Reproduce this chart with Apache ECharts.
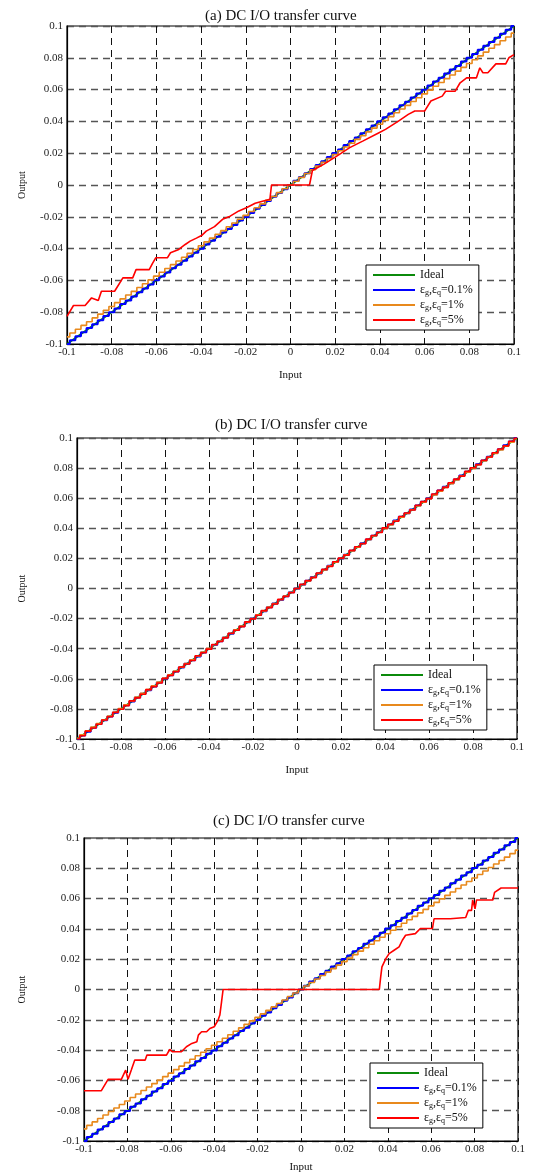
<!DOCTYPE html>
<html>
<head>
<meta charset="utf-8">
<title>DC I/O transfer curve</title>
<script src="https://cdn.jsdelivr.net/npm/echarts@6/dist/echarts.min.js"></script>
<style>
  html, body { margin: 0; padding: 0; background: #fff; }
  #chart { width: 533px; height: 1175px; }
</style>
</head>
<body>
<div id="chart"></div>
<script>
// input grid shared by the stepped curves
const xs = [-0.1, -0.0975, -0.095, -0.0925, -0.09, -0.0875, -0.085, -0.0825, -0.08, -0.0775,
  -0.075, -0.0725, -0.07, -0.0675, -0.065, -0.0625, -0.06, -0.0575, -0.055, -0.0525,
  -0.05, -0.0475, -0.045, -0.0425, -0.04, -0.0375, -0.035, -0.0325, -0.03, -0.0275,
  -0.025, -0.0225, -0.02, -0.0175, -0.015, -0.0125, -0.01, -0.0075, -0.005, -0.0025,
  0, 0.0025, 0.005, 0.0075, 0.01, 0.0125, 0.015, 0.0175, 0.02, 0.0225,
  0.025, 0.0275, 0.03, 0.0325, 0.035, 0.0375, 0.04, 0.0425, 0.045, 0.0475,
  0.05, 0.0525, 0.055, 0.0575, 0.06, 0.0625, 0.065, 0.0675, 0.07, 0.0725,
  0.075, 0.0775, 0.08, 0.0825, 0.085, 0.0875, 0.09, 0.0925, 0.095, 0.0975, 0.1];

const idealX = [-0.1, 0.1];
const idealY = [-0.1, 0.1];

const axisTicks = [-0.1, -0.08, -0.06, -0.04, -0.02, 0, 0.02, 0.04, 0.06, 0.08, 0.1];
const legendNames = ['Ideal', 'εg,εq=0.1%', 'εg,εq=1%', 'εg,εq=5%'];
const titles = ['(a) DC I/O transfer curve', '(b) DC I/O transfer curve', '(c) DC I/O transfer curve'];

// (a)
const blueA = [-0.1, -0.0977, -0.0951, -0.0926, -0.0899, -0.0876, -0.0851, -0.0824, -0.0801, -0.0776,
  -0.0749, -0.0726, -0.0701, -0.0674, -0.0651, -0.0626, -0.0599, -0.0576, -0.0551, -0.0524,
  -0.0501, -0.0476, -0.0449, -0.0426, -0.0401, -0.0374, -0.0351, -0.0326, -0.0299, -0.0276,
  -0.0251, -0.0224, -0.0201, -0.0176, -0.0149, -0.0126, -0.0101, -0.0074, -0.0051, -0.0026,
  0, 0.0026, 0.0051, 0.0074, 0.0101, 0.0126, 0.0149, 0.0176, 0.0201, 0.0224,
  0.0251, 0.0276, 0.0299, 0.0326, 0.0351, 0.0374, 0.0401, 0.0426, 0.0449, 0.0476,
  0.0501, 0.0524, 0.0551, 0.0576, 0.0599, 0.0626, 0.0651, 0.0674, 0.0701, 0.0726,
  0.0749, 0.0776, 0.0801, 0.0824, 0.0851, 0.0876, 0.0899, 0.0926, 0.0951, 0.0977, 0.1];
const orangeA = [-0.0955, -0.0931, -0.0907, -0.0883, -0.086, -0.0836, -0.0812, -0.0788, -0.0764, -0.074,
  -0.0716, -0.0692, -0.0669, -0.0645, -0.0621, -0.0597, -0.0573, -0.0549, -0.0525, -0.0501,
  -0.0478, -0.0454, -0.043, -0.0406, -0.0382, -0.0358, -0.0334, -0.031, -0.0287, -0.0263,
  -0.0239, -0.0215, -0.0191, -0.0167, -0.0143, -0.0119, -0.0096, -0.0072, -0.0048, -0.0024,
  0, 0.0024, 0.0048, 0.0072, 0.0096, 0.0119, 0.0143, 0.0167, 0.0191, 0.0215,
  0.0239, 0.0263, 0.0287, 0.031, 0.0334, 0.0358, 0.0382, 0.0406, 0.043, 0.0454,
  0.0478, 0.0501, 0.0525, 0.0549, 0.0573, 0.0597, 0.0621, 0.0645, 0.0669, 0.0692,
  0.0716, 0.074, 0.0764, 0.0788, 0.0812, 0.0836, 0.086, 0.0883, 0.0907, 0.0931, 0.0955];
const redA = [[-0.1, -0.0826], [-0.0971, -0.0758], [-0.0919, -0.0758], [-0.089, -0.071], [-0.086, -0.0727],
  [-0.0846, -0.0668], [-0.0787, -0.0668], [-0.075, -0.0584], [-0.0706, -0.0584], [-0.0691, -0.0532],
  [-0.0632, -0.0532], [-0.0618, -0.0494], [-0.0603, -0.0458], [-0.0551, -0.0458], [-0.0537, -0.0426],
  [-0.05, -0.0405], [-0.0471, -0.0374], [-0.0449, -0.0353], [-0.0421, -0.0334], [-0.0398, -0.0318],
  [-0.0377, -0.029], [-0.034, -0.0262], [-0.0304, -0.0216], [-0.027, -0.0196], [-0.0231, -0.0163],
  [-0.0195, -0.0142], [-0.0158, -0.0115], [-0.0121, -0.01], [-0.0092, -0.0089], [-0.0085, 0],
  [0.0085, 0], [0.0098, 0.0091], [0.0105, 0.0098], [0.0148, 0.013], [0.0207, 0.0182],
  [0.0265, 0.0235], [0.0323, 0.0276], [0.0396, 0.0329], [0.0425, 0.035], [0.0483, 0.0402],
  [0.0527, 0.0444], [0.0556, 0.0465], [0.06, 0.0465], [0.0628, 0.0528], [0.0679, 0.0559],
  [0.0694, 0.059], [0.0737, 0.059], [0.0759, 0.0643], [0.0788, 0.0674], [0.0832, 0.0674],
  [0.0847, 0.0737], [0.0861, 0.0706], [0.0883, 0.0706], [0.0919, 0.0762], [0.0963, 0.0762],
  [0.0977, 0.08], [0.1, 0.082]];

// (b)
const blueB = [-0.1, -0.0976, -0.0951, -0.0925, -0.09, -0.0876, -0.0851, -0.0825, -0.08, -0.0776,
  -0.0751, -0.0725, -0.07, -0.0676, -0.0651, -0.0625, -0.06, -0.0576, -0.0551, -0.0525,
  -0.05, -0.0476, -0.0451, -0.0425, -0.04, -0.0376, -0.0351, -0.0325, -0.03, -0.0276,
  -0.0251, -0.0225, -0.02, -0.0176, -0.0151, -0.0125, -0.01, -0.0076, -0.0051, -0.0025,
  0, 0.0025, 0.0051, 0.0076, 0.01, 0.0125, 0.0151, 0.0176, 0.02, 0.0225,
  0.0251, 0.0276, 0.03, 0.0325, 0.0351, 0.0376, 0.04, 0.0425, 0.0451, 0.0476,
  0.05, 0.0525, 0.0551, 0.0576, 0.06, 0.0625, 0.0651, 0.0676, 0.07, 0.0725,
  0.0751, 0.0776, 0.08, 0.0825, 0.0851, 0.0876, 0.09, 0.0925, 0.0951, 0.0976, 0.1];
const orangeB = [-0.0995, -0.0972, -0.0946, -0.0921, -0.0897, -0.0872, -0.0847, -0.0822, -0.0797, -0.0772,
  -0.0747, -0.0722, -0.0697, -0.0672, -0.0647, -0.0622, -0.0597, -0.0573, -0.0548, -0.0523,
  -0.0498, -0.0473, -0.0448, -0.0423, -0.0398, -0.0374, -0.0349, -0.0324, -0.0299, -0.0274,
  -0.0249, -0.0224, -0.0199, -0.0174, -0.0149, -0.0124, -0.01, -0.0075, -0.005, -0.0025,
  0, 0.0025, 0.005, 0.0075, 0.01, 0.0124, 0.0149, 0.0174, 0.0199, 0.0224,
  0.0249, 0.0274, 0.0299, 0.0324, 0.0349, 0.0374, 0.0398, 0.0423, 0.0448, 0.0473,
  0.0498, 0.0523, 0.0548, 0.0573, 0.0597, 0.0622, 0.0647, 0.0672, 0.0697, 0.0722,
  0.0747, 0.0772, 0.0797, 0.0822, 0.0847, 0.0872, 0.0897, 0.0921, 0.0946, 0.0972, 0.0995];
const redB = [-0.1, -0.0978, -0.0948, -0.0927, -0.0902, -0.0874, -0.0852, -0.0823, -0.0802, -0.0778,
  -0.0747, -0.0727, -0.0703, -0.0672, -0.0652, -0.0628, -0.0597, -0.0577, -0.0553, -0.0522,
  -0.0502, -0.0478, -0.0447, -0.0427, -0.0403, -0.0372, -0.0352, -0.0328, -0.0297, -0.0277,
  -0.0253, -0.0222, -0.0202, -0.0178, -0.0147, -0.0127, -0.0103, -0.0072, -0.0052, -0.0028,
  0, 0.0028, 0.0052, 0.0072, 0.0103, 0.0127, 0.0147, 0.0178, 0.0202, 0.0222,
  0.0253, 0.0277, 0.0297, 0.0328, 0.0352, 0.0372, 0.0403, 0.0427, 0.0447, 0.0478,
  0.0502, 0.0522, 0.0553, 0.0577, 0.0597, 0.0628, 0.0652, 0.0672, 0.0703, 0.0727,
  0.0747, 0.0778, 0.0802, 0.0823, 0.0852, 0.0874, 0.0902, 0.0927, 0.0948, 0.0978, 0.1];

// (c)
const blueC = [-0.1, -0.0974, -0.0952, -0.0924, -0.0902, -0.0874, -0.0852, -0.0824, -0.0802, -0.0774,
  -0.0752, -0.0724, -0.0702, -0.0674, -0.0652, -0.0624, -0.0602, -0.0574, -0.0552, -0.0524,
  -0.0502, -0.0474, -0.0452, -0.0424, -0.0402, -0.0374, -0.0352, -0.0324, -0.0302, -0.0274,
  -0.0252, -0.0224, -0.0202, -0.0174, -0.0152, -0.0124, -0.0102, -0.0074, -0.0052, -0.0024,
  0, 0.0024, 0.0052, 0.0074, 0.0102, 0.0124, 0.0152, 0.0174, 0.0202, 0.0224,
  0.0252, 0.0274, 0.0302, 0.0324, 0.0352, 0.0374, 0.0402, 0.0424, 0.0452, 0.0474,
  0.0502, 0.0524, 0.0552, 0.0574, 0.0602, 0.0624, 0.0652, 0.0674, 0.0702, 0.0724,
  0.0752, 0.0774, 0.0802, 0.0824, 0.0852, 0.0874, 0.0902, 0.0924, 0.0952, 0.0974, 0.1];
const orangeC = [-0.092, -0.0897, -0.0874, -0.0851, -0.0828, -0.0805, -0.0782, -0.0759, -0.0736, -0.0713,
  -0.069, -0.0667, -0.0644, -0.0621, -0.0598, -0.0575, -0.0552, -0.0529, -0.0506, -0.0483,
  -0.046, -0.0437, -0.0414, -0.0391, -0.0368, -0.0345, -0.0322, -0.0299, -0.0276, -0.0253,
  -0.023, -0.0207, -0.0184, -0.0161, -0.0138, -0.0115, -0.0092, -0.0069, -0.0046, -0.0023,
  0, 0.0023, 0.0046, 0.0069, 0.0092, 0.0115, 0.0138, 0.0161, 0.0184, 0.0207,
  0.023, 0.0253, 0.0276, 0.0299, 0.0322, 0.0345, 0.0368, 0.0391, 0.0414, 0.0437,
  0.046, 0.0483, 0.0506, 0.0529, 0.0552, 0.0575, 0.0598, 0.0621, 0.0644, 0.0667,
  0.069, 0.0713, 0.0736, 0.0759, 0.0782, 0.0805, 0.0828, 0.0851, 0.0874, 0.0897, 0.092];
const redC = [[-0.1, -0.0668], [-0.092, -0.0668], [-0.0889, -0.0593], [-0.0828, -0.0593], [-0.0808, -0.0532],
  [-0.0797, -0.0593], [-0.0782, -0.0532], [-0.0766, -0.0466], [-0.0718, -0.0466], [-0.071, -0.0433],
  [-0.062, -0.0433], [-0.0605, -0.0396], [-0.0592, -0.0411], [-0.0551, -0.0411], [-0.0528, -0.0378],
  [-0.0503, -0.0356], [-0.048, -0.0345], [-0.0473, -0.0301], [-0.0458, -0.0279], [-0.0435, -0.0279],
  [-0.042, -0.0257], [-0.04, -0.0246], [-0.0382, -0.0202], [-0.0374, -0.0169], [-0.0366, -0.008],
  [-0.0359, 0], [0.0361, 0], [0.0367, 0.008], [0.0373, 0.0149], [0.0391, 0.0204],
  [0.0406, 0.0237], [0.0429, 0.0259], [0.0452, 0.0281], [0.0467, 0.0325], [0.0482, 0.0358],
  [0.0527, 0.0369], [0.055, 0.0403], [0.0606, 0.0403], [0.0613, 0.0467], [0.0688, 0.0467],
  [0.0694, 0.0475], [0.0759, 0.0475], [0.0771, 0.0522], [0.0786, 0.0522], [0.0791, 0.0591],
  [0.0802, 0.0533], [0.0809, 0.0591], [0.0884, 0.0591], [0.0892, 0.0641], [0.0922, 0.067],
  [0.1, 0.067]];

const zip = (a, b) => a.map((v, i) => [v, b[i]]);

const panels = [
  { blue: blueA, orange: orangeA, red: redA,
    grid: { left: 67, top: 26, width: 447, height: 318 },
    titlePos: { left: 200, top: 4 }, legendPos: { left: 366, top: 265 },
    outGap: 40, inGap: 26 },
  { blue: blueB, orange: orangeB, red: zip(xs, redB),
    grid: { left: 77, top: 438, width: 440, height: 301 },
    titlePos: { left: 210, top: 413 }, legendPos: { left: 374, top: 665 },
    outGap: 50, inGap: 26 },
  { blue: blueC, orange: orangeC, red: redC,
    grid: { left: 84, top: 838, width: 434, height: 303 },
    titlePos: { left: 208, top: 809 }, legendPos: { left: 370, top: 1063 },
    outGap: 57, inGap: 21 }
];

const serif = 'Liberation Serif';
const colors = ['#0b8a0b', '#0000ff', '#e8891c', '#ff0000'];
const fmt = v => String(Math.round(v * 100) / 100);

const option = {
  animation: false,
  backgroundColor: '#fff',
  title: [], legend: [], grid: [], xAxis: [], yAxis: [], series: []
};

panels.forEach((p, i) => {
  option.title.push({
    text: titles[i], left: p.titlePos.left, top: p.titlePos.top,
    textStyle: { fontFamily: serif, fontSize: 15, fontWeight: 'normal', color: '#111' }
  });
  option.grid.push(Object.assign({ show: true, borderColor: '#000', borderWidth: 1.2, backgroundColor: '#fff' }, p.grid));
  option.xAxis.push({
    gridIndex: i, type: 'value', min: axisTicks[0], max: axisTicks[axisTicks.length - 1], interval: 0.02,
    name: 'Input', nameLocation: 'middle', nameGap: p.inGap,
    nameTextStyle: { fontFamily: serif, fontSize: 11, color: '#111' },
    axisLine: { onZero: false, lineStyle: { color: '#000', width: 1.2 } },
    axisTick: { show: false },
    axisLabel: { fontFamily: serif, fontSize: 11, color: '#222', margin: 3, formatter: fmt },
    splitLine: { show: true, lineStyle: { color: '#111', type: [7, 5], width: 1 } }
  });
  option.yAxis.push({
    gridIndex: i, type: 'value', min: axisTicks[0], max: axisTicks[axisTicks.length - 1], interval: 0.02,
    name: 'Output', nameLocation: 'middle', nameGap: p.outGap,
    nameTextStyle: { fontFamily: serif, fontSize: 10, color: '#111' },
    axisLine: { onZero: false, lineStyle: { color: '#000', width: 1.2 } },
    axisTick: { show: false },
    axisLabel: { fontFamily: serif, fontSize: 11, color: '#222', margin: 4, formatter: fmt },
    splitLine: { show: true, lineStyle: { color: '#555', type: [7, 5], width: 1.3 } }
  });
  option.legend.push({
    orient: 'vertical', left: p.legendPos.left, top: p.legendPos.top,
    data: legendNames, icon: 'rect', itemWidth: 42, itemHeight: 2, itemGap: 1,
    padding: [3, 6, 3, 7], backgroundColor: '#fff', borderColor: '#000', borderWidth: 1,
    formatter: n => n.replace(/ε(g|q)/g, 'ε{s|$1}'),
    textStyle: {
      fontFamily: serif, fontSize: 12, color: '#111', lineHeight: 14,
      rich: { s: { fontFamily: serif, fontSize: 8, color: '#111', padding: [6, 0, 0, 0] } }
    }
  });
  const base = { type: 'line', xAxisIndex: i, yAxisIndex: i, symbol: 'none', silent: true };
  option.series.push(Object.assign({}, base, {
    name: legendNames[0], data: zip(idealX, idealY),
    lineStyle: { color: colors[0], width: 2 }, itemStyle: { color: colors[0] }
  }));
  option.series.push(Object.assign({}, base, {
    name: legendNames[1], data: zip(xs, p.blue), step: 'middle',
    lineStyle: { color: colors[1], width: 2 }, itemStyle: { color: colors[1] }
  }));
  option.series.push(Object.assign({}, base, {
    name: legendNames[2], data: zip(xs, p.orange), step: 'middle',
    lineStyle: { color: colors[2], width: 1.6 }, itemStyle: { color: colors[2] }
  }));
  option.series.push(Object.assign({}, base, {
    name: legendNames[3], data: p.red, step: i === 1 ? 'middle' : false,
    lineStyle: { color: colors[3], width: 1.6 }, itemStyle: { color: colors[3] }
  }));
});

const chart = echarts.init(document.getElementById('chart'));
chart.setOption(option);
</script>
</body>
</html>
